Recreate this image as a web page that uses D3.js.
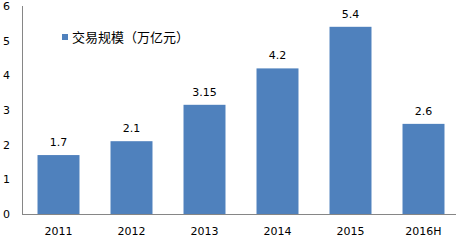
<!DOCTYPE html>
<html>
<head>
<meta charset="utf-8">
<script src="https://cdn.jsdelivr.net/npm/d3@7"></script>
<style>
  body { margin: 0; background: #fff; }
  text { font-family: "DejaVu Sans", "Noto Sans CJK SC", sans-serif; fill: #000; }
</style>
</head>
<body>
<script>
// chart data
var years = ["2011", "2012", "2013", "2014", "2015", "2016H"];
var values = [1.7, 2.1, 3.15, 4.2, 5.4, 2.6];
var valueLabels = ["1.7", "2.1", "3.15", "4.2", "5.4", "2.6"];
var yTicks = [0, 1, 2, 3, 4, 5, 6];
var seriesName = "交易规模（万亿元）";

var width = 456, height = 240;

var svg = d3.select("body").append("svg")
    .attr("width", width)
    .attr("height", height);

//scales
var x = d3.scaleBand()
    .domain(years)
    .range([22, 460])
    .paddingInner(0.425)
    .paddingOuter(0.2125);

var y = d3.scaleLinear()
    .domain([0, 6])
    .range([214, 6]);

//bars
svg.selectAll(".bar")
    .data(values)
    .enter()
    .append("rect")
    .attr("class", "bar")
    .attr("x", function(d, i){ return x(years[i]); })
    .attr("y", function(d){ return y(d); })
    .attr("width", x.bandwidth())
    .attr("height", function(d){ return y(0) - y(d); })
    .attr("fill", "#4f81bd");

//value labels
svg.selectAll(".vlabel")
    .data(values)
    .enter()
    .append("text")
    .attr("class", "vlabel")
    .attr("x", function(d, i){ return x(years[i]) + x.bandwidth() / 2; })
    .attr("y", function(d){ return y(d) - 9; })
    .attr("text-anchor", "middle")
    .style("font-size", "11px")
    .text(function(d, i){ return valueLabels[i]; });

//y axis line
svg.append("line")
    .attr("x1", 22.5).attr("x2", 22.5)
    .attr("y1", y(6)).attr("y2", y(0))
    .attr("stroke", "#868686");

//x axis line
svg.append("line")
    .attr("x1", 22).attr("x2", width)
    .attr("y1", y(0) + 0.5).attr("y2", y(0) + 0.5)
    .attr("stroke", "#868686");

//y tick labels
svg.selectAll(".ylabel")
    .data(yTicks)
    .enter()
    .append("text")
    .attr("class", "ylabel")
    .attr("x", 3)
    .attr("y", function(d){ return y(d) + 4; })
    .style("font-size", "11px")
    .text(function(d){ return d; });

//x tick labels
svg.selectAll(".xlabel")
    .data(years)
    .enter()
    .append("text")
    .attr("class", "xlabel")
    .attr("x", function(d){ return x(d) + x.bandwidth() / 2; })
    .attr("y", 235)
    .attr("text-anchor", "middle")
    .style("font-size", "11px")
    .text(function(d){ return d; });

//legend
svg.append("rect")
    .attr("x", 62).attr("y", 34)
    .attr("width", 6).attr("height", 6)
    .attr("fill", "#4f81bd");

svg.append("text")
    .attr("x", 72)
    .attr("y", 42)
    .style("font-size", "13px")
    .text(seriesName);
</script>
</body>
</html>
